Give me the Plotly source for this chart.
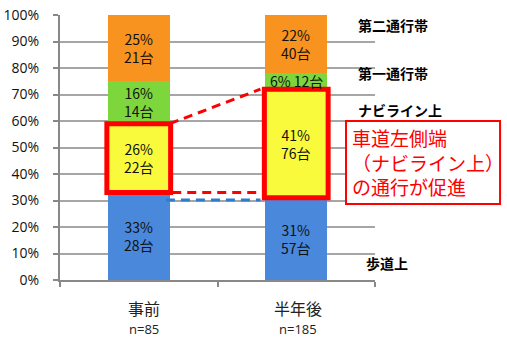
import plotly.graph_objects as go

# Survey: where cyclists ride, before and half a year after the navi-line marking
periods = ["事前", "半年後"]
sample_sizes = ["n=85", "n=185"]
segments = ["歩道上", "ナビライン上", "第一通行帯", "第二通行帯"]
pct_before = [33, 26, 16, 25]
cnt_before = [28, 22, 14, 21]
pct_after = [31, 41, 6, 22]
cnt_after = [57, 76, 12, 40]
y_ticks = list(range(0, 101, 10))

colors = ["#4A88DC", "#FAFA3C", "#7ED63D", "#F8931F"]
BAR_W = 0.395
JP = "Noto Sans CJK JP"

pcts = [pct_before, pct_after]
cnts = [cnt_before, cnt_after]
xs = [0, 1]

fig = go.Figure()
for i, seg in enumerate(segments):
    fig.add_trace(go.Bar(
        x=xs, y=[pct_before[i], pct_after[i]], name=seg, width=BAR_W,
        marker=dict(color=colors[i], line=dict(width=0)),
        hoverinfo="skip",
    ))

annotations = []
shapes = []
label_font = dict(family=JP, size=14, color="#111")

# value labels centred in every stacked segment
for b in range(2):
    base = 0
    for i in range(len(segments)):
        v = pcts[b][i]
        mid = base + v / 2
        sep = " " if v < 10 else "<br>"
        annotations.append(dict(x=xs[b], y=mid, xref="x", yref="y",
                                text=f"{v}%{sep}{cnts[b][i]}台", showarrow=False,
                                font=label_font))
        base += v

# red frames round the navi-line segment
for b in range(2):
    lo = pcts[b][0]
    hi = lo + pcts[b][1]
    shapes.append(dict(type="rect", xref="x", yref="y",
                       x0=xs[b] - BAR_W / 2 - 0.005, x1=xs[b] + BAR_W / 2 + 0.005,
                       y0=lo, y1=hi, line=dict(color="#FF0000", width=5),
                       fillcolor="rgba(0,0,0,0)", layer="above"))

# dashed connectors between the two bars
x_from = xs[0] + BAR_W / 2
x_to = xs[1] - BAR_W / 2 - 0.03
top_before = pct_before[0] + pct_before[1]
top_after = pct_after[0] + pct_after[1]
shapes.append(dict(type="line", xref="x", yref="y", x0=x_from, x1=x_to,
                   y0=top_before, y1=top_after,
                   line=dict(color="#FF0000", width=3, dash="9px,6px"), layer="above"))
shapes.append(dict(type="line", xref="x", yref="y", x0=x_from + 0.015, x1=x_to,
                   y0=pct_before[0], y1=pct_before[0],
                   line=dict(color="#FF0000", width=3, dash="9px,6px"), layer="above"))
shapes.append(dict(type="line", xref="x", yref="y", x0=x_from - 0.025, x1=x_to,
                   y0=pct_after[0] - 0.8, y1=pct_after[0] - 0.8,
                   line=dict(color="#2F7BD0", width=3, dash="9px,6px"), layer="above"))

# category labels under the axis
for b, xshift in zip(range(2), [5, 2]):
    annotations.append(dict(x=xs[b], y=0, xref="x", yref="y", yshift=-28, xshift=xshift,
                            yanchor="middle", text=periods[b], showarrow=False,
                            font=dict(family=JP, size=16, color="#222")))
    annotations.append(dict(x=xs[b], y=0, xref="x", yref="y", yshift=-49, xshift=xshift,
                            yanchor="middle", text=sample_sizes[b], showarrow=False,
                            font=dict(family="Open Sans", size=13, color="#222")))

# segment names on the right
side_pos = {"第二通行帯": (0.9397, 0.962), "第一通行帯": (0.9397, 0.781),
            "ナビライン上": (0.9397, 0.643), "歩道上": (0.965, 0.064)}
for name, (px, py) in side_pos.items():
    annotations.append(dict(x=px, y=py, xref="paper", yref="paper",
                            xanchor="left", yanchor="middle",
                            text=f"<b>{name}</b>", showarrow=False,
                            font=dict(family=JP, size=14, color="#000")))

# callout box
shapes.append(dict(type="rect", xref="paper", yref="paper", x0=0.908, x1=1.397,
                   y0=0.287, y1=0.60, line=dict(color="#FF0000", width=2),
                   fillcolor="white", layer="above"))
callout = ["車道左側端", "（ナビライン上）", "の通行が促進"]
annotations.append(dict(x=0.922, y=0.444, xref="paper", yref="paper",
                        xanchor="left", yanchor="middle", align="left",
                        text="<br>".join(callout), showarrow=False,
                        font=dict(family=JP, size=19, color="#FF0000")))

fig.update_layout(
    barmode="stack",
    width=507, height=343,
    margin=dict(l=60, r=132, t=15, b=63),
    paper_bgcolor="white", plot_bgcolor="white",
    showlegend=False,
    annotations=annotations,
    shapes=shapes,
    xaxis=dict(range=[-0.5, 1.5], tickvals=[-0.5, 0.5, 1.5], showticklabels=False,
               ticks="outside", ticklen=5, tickcolor="#888", tickwidth=1.5,
               showgrid=False, zeroline=False, showline=True, linecolor="#888",
               linewidth=2, automargin=False, fixedrange=True),
    yaxis=dict(range=[0, 100], tickvals=y_ticks, ticktext=[f"{t}%" for t in y_ticks],
               ticks="outside", ticklen=5, tickcolor="#888", tickwidth=1.5,
               showgrid=True, gridcolor="#A6A6A6", gridwidth=1.5,
               zeroline=False, showline=True, linecolor="#888", linewidth=2,
               ticklabelstandoff=11, automargin=False,
               tickfont=dict(family="Open Sans", size=14, color="#111"),
               fixedrange=True),
)

fig.write_html("out.html")
